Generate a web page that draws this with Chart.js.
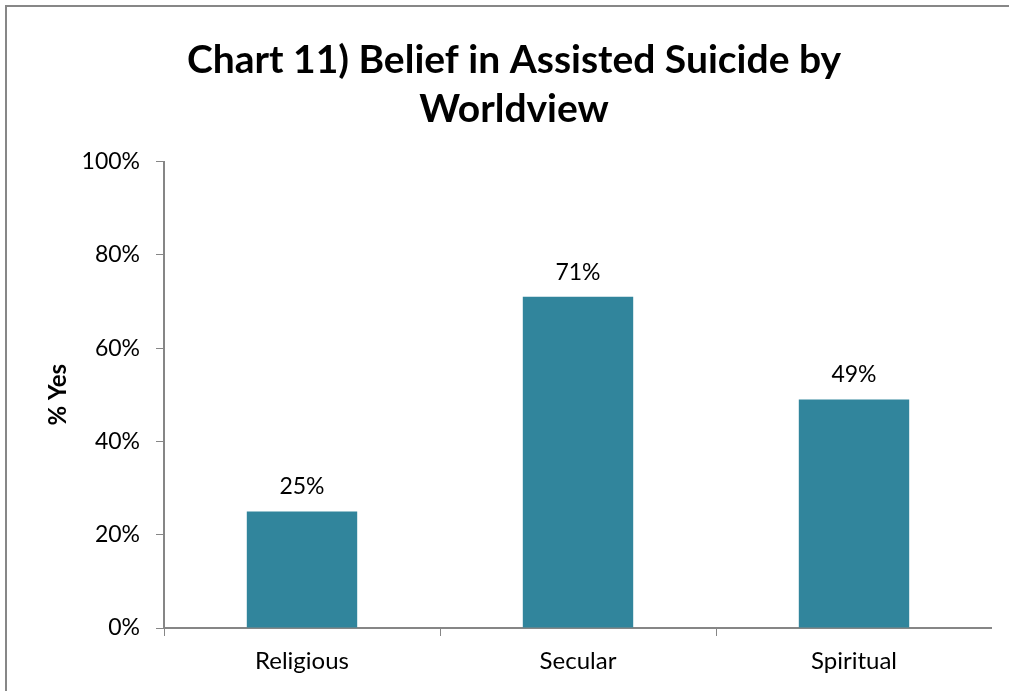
<!DOCTYPE html>
<html>
<head>
<meta charset="utf-8">
<script src="https://cdn.jsdelivr.net/npm/chart.js@4.4.1/dist/chart.umd.min.js"></script>
<style>
  body { margin: 0; background: #fff; overflow: hidden; }
  .frame { position: absolute; left: 5px; top: 5px; width: 1100px; height: 800px; border: 2px solid #878787; }
  .wrap { position: absolute; left: 36px; top: 0; width: 956px; height: 691px; }
</style>
</head>
<body>
<div class="frame"></div>
<div class="wrap"><canvas id="worldviewChart"></canvas></div>
<script>
// values
const categories = ['Religious', 'Secular', 'Spiritual'];
const yesPercent = [25, 71, 49];
const yTickValues = [0, 20, 40, 60, 80, 100];

const barColor = '#31859C';
const axisColor = '#868686';
const fontFamily = "Lato, 'Open Sans', sans-serif";

// draws the "25%" style labels above each bar
const barLabels = {
  id: 'barLabels',
  afterDatasetsDraw(chart) {
    const {ctx} = chart;
    const meta = chart.getDatasetMeta(0);
    ctx.save();
    ctx.font = '23px ' + fontFamily;
    ctx.fillStyle = '#000';
    ctx.textAlign = 'center';
    ctx.textBaseline = 'alphabetic';
    meta.data.forEach((bar, i) => {
      ctx.fillText(yesPercent[i] + '%', bar.x, bar.y - 17);
    });
    ctx.restore();
  }
};

const ctx = document.getElementById('worldviewChart').getContext('2d');

new Chart(ctx, {
  type: 'bar',
  data: {
    labels: categories,
    datasets: [{
      label: '% Yes',
      data: yesPercent,
      backgroundColor: barColor,
      borderWidth: 0,
      barPercentage: 0.8,
      categoryPercentage: 0.5
    }]
  },
  options: {
    responsive: true,
    maintainAspectRatio: false,
    animation: false,
    layout: { padding: 0 },
    plugins: {
      legend: { display: false },
      tooltip: { enabled: false },
      title: {
        display: true,
        text: ['Chart 11) Belief in Assisted Suicide by', 'Worldview'],
        color: '#000',
        font: { family: fontFamily, size: 39, weight: 'bold', lineHeight: 1.25 },
        padding: { top: 36, bottom: 28 }
      }
    },
    scales: {
      x: {
        grid: {
          display: true,
          drawOnChartArea: false,
          offset: true,
          tickLength: 8,
          color: axisColor
        },
        border: { color: axisColor, width: 2 },
        ticks: {
          color: '#000',
          padding: 11,
          font: { family: fontFamily, size: 24 }
        },
        afterFit(scale) { scale.height = 63; }
      },
      y: {
        min: 0,
        max: 100,
        afterBuildTicks(scale) {
          scale.ticks = yTickValues.map(v => ({ value: v }));
        },
        grid: {
          display: true,
          drawOnChartArea: false,
          tickLength: 8,
          color: axisColor
        },
        border: { color: axisColor, width: 2 },
        ticks: {
          color: '#000',
          padding: 16,
          font: { family: fontFamily, size: 23 },
          callback: v => v + '%'
        },
        title: {
          display: true,
          text: '% Yes',
          color: '#000',
          font: { family: fontFamily, size: 24, weight: 'bold' },
          padding: { top: 8, bottom: 0 }
        },
        afterFit(scale) { scale.width = 128; }
      }
    }
  },
  plugins: [barLabels]
});
</script>
</body>
</html>
